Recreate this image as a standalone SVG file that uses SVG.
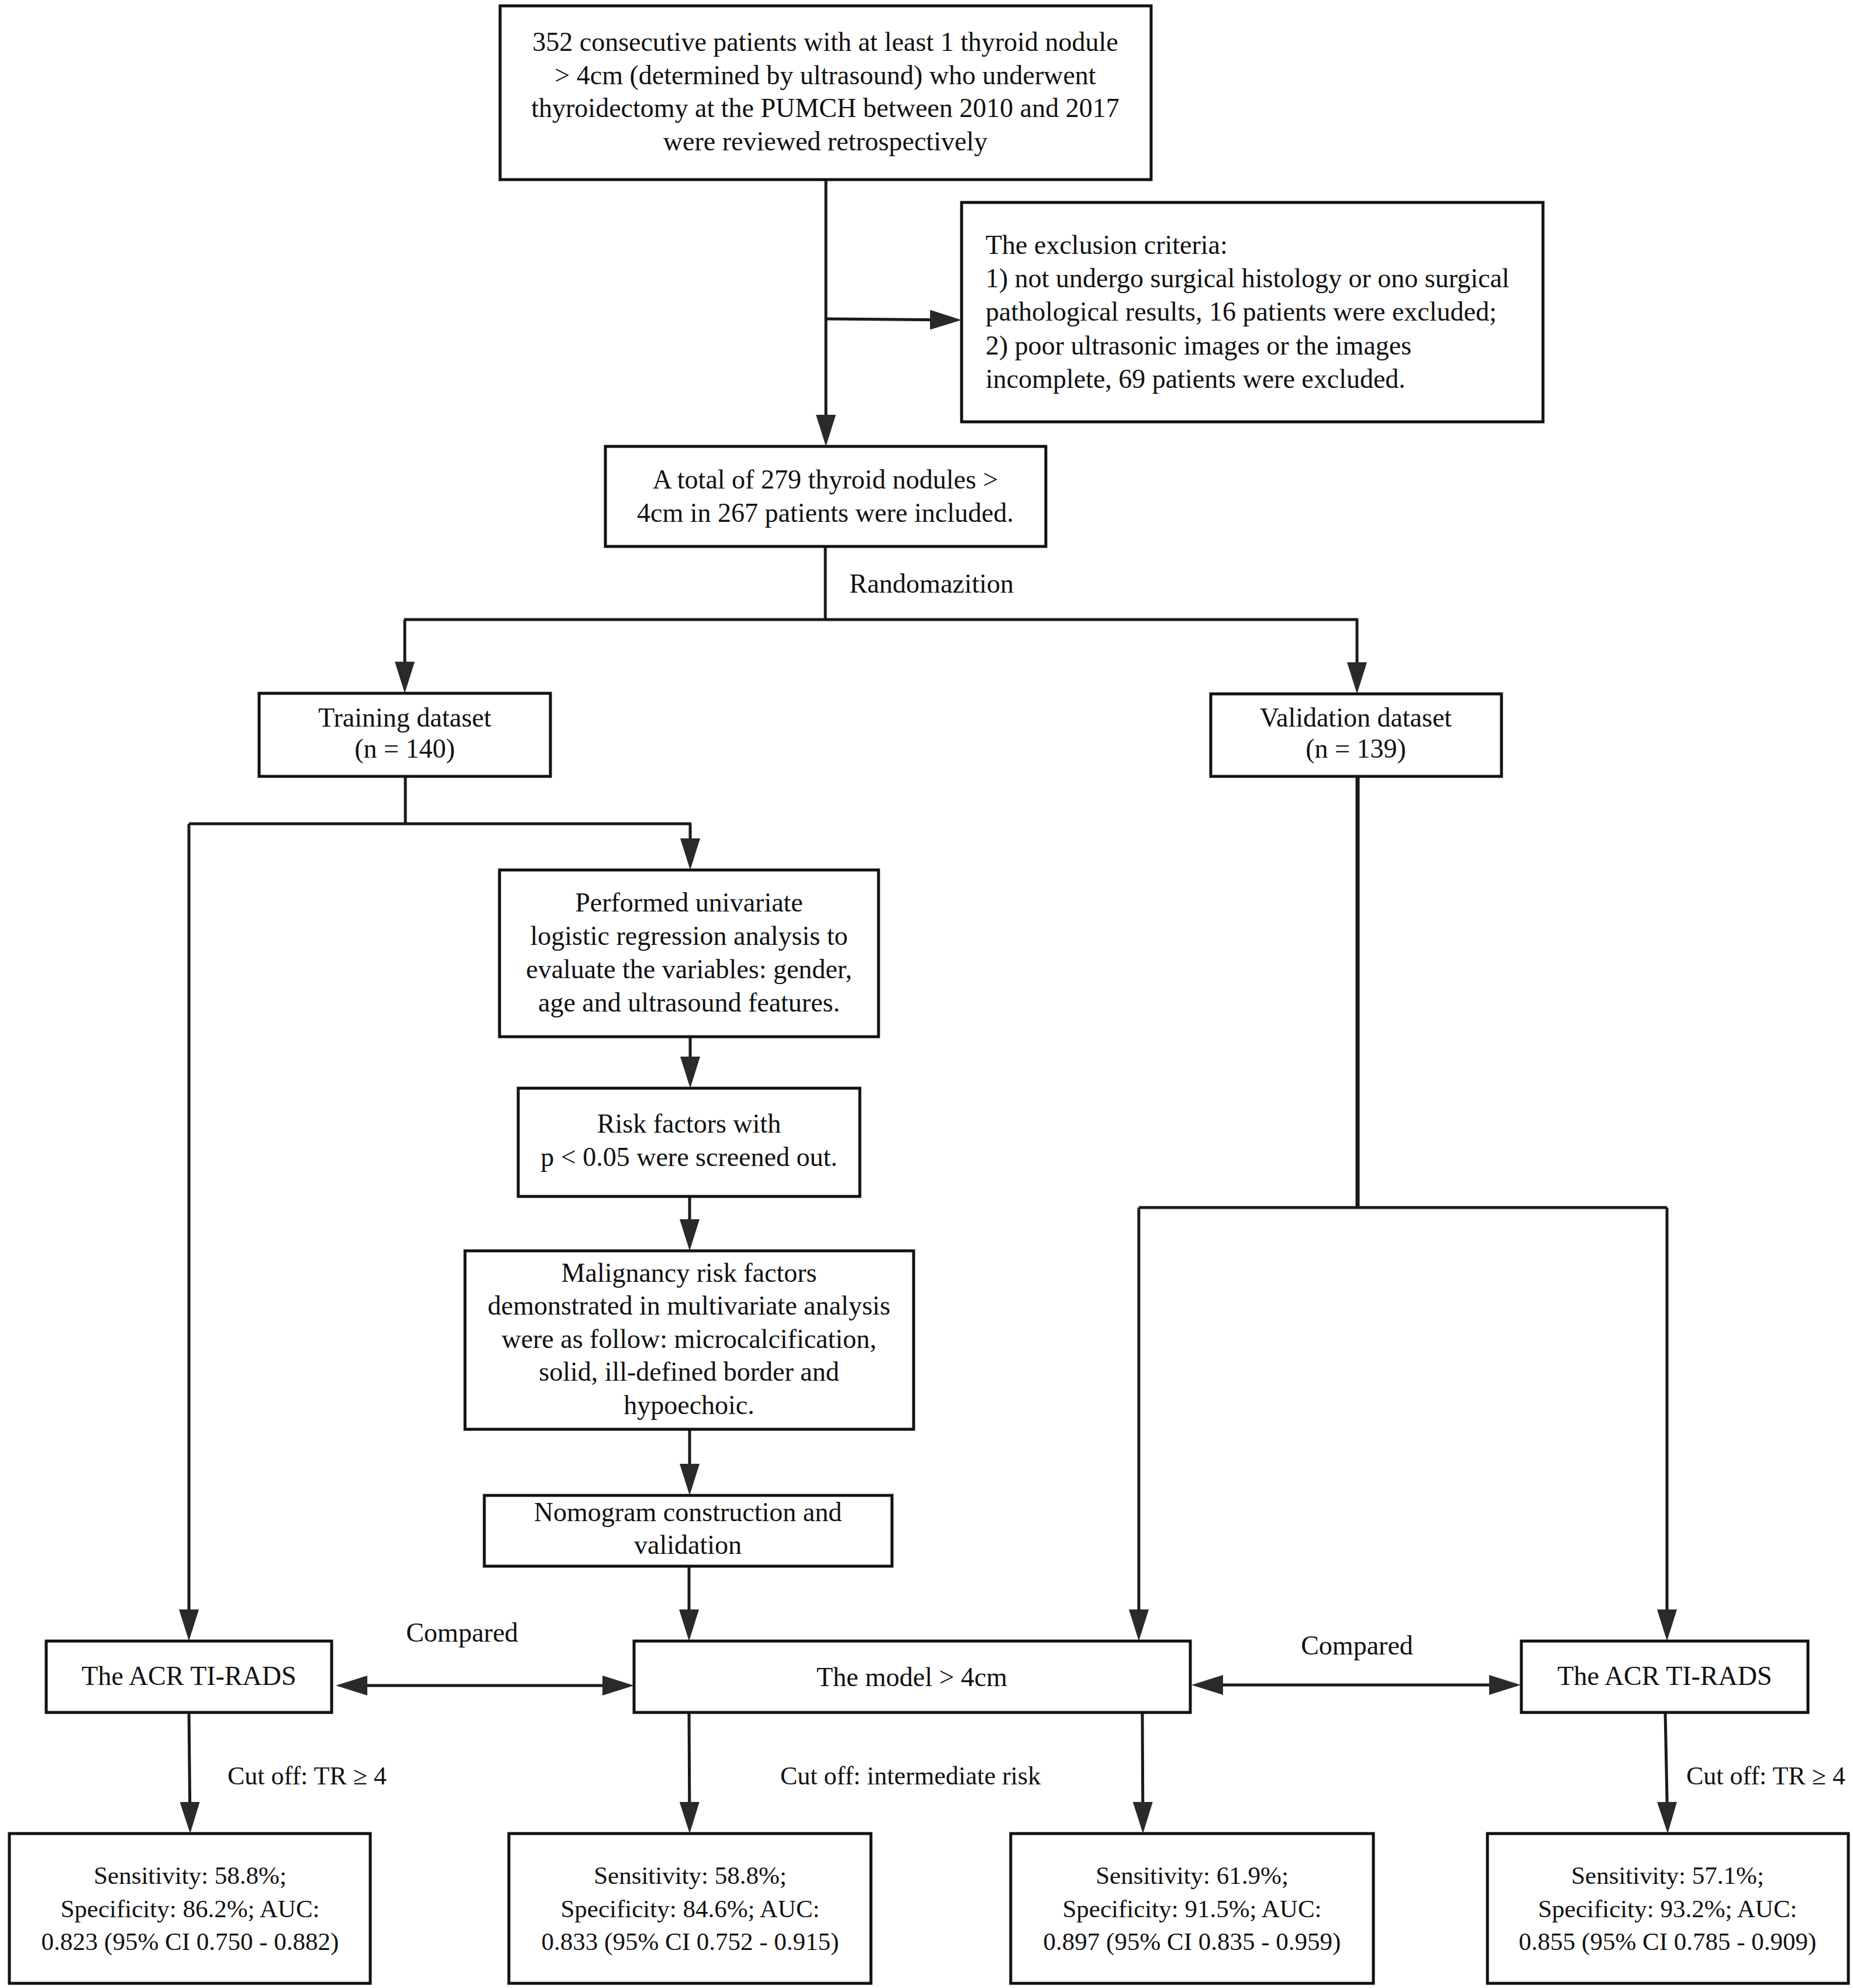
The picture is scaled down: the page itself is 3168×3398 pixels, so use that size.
<svg xmlns="http://www.w3.org/2000/svg" width="3168" height="3398" viewBox="0 0 3168 3398">
<style>
.box{fill:#fff;stroke:#111;stroke-width:5}
.t{font-family:"Liberation Serif","Times New Roman",serif;font-size:46px;fill:#111}
.s{font-size:43px}
.m{font-size:44px}
.c{text-anchor:middle}
.ln{fill:none;stroke:#1a1a1a;stroke-width:5}
</style>
<defs>
<marker id="ah" markerUnits="userSpaceOnUse" markerWidth="56" markerHeight="36" refX="44" refY="17" orient="auto-start-reverse" viewBox="0 0 56 36">
<path d="M0,0 L54,17 L0,34 z" fill="#2a2a2a"/>
</marker>
</defs>
<rect width="3168" height="3398" fill="#fff"/>
<g id="connectors">
<line class="ln" x1="1412" y1="307" x2="1412" y2="753" marker-end="url(#ah)"/>
<line class="ln" x1="1412" y1="545" x2="1634" y2="547" marker-end="url(#ah)"/>
<line class="ln" x1="1411" y1="934" x2="1411" y2="1059"/>
<line class="ln" x1="691" y1="1059" x2="2322" y2="1059"/>
<line class="ln" x1="692" y1="1059" x2="692" y2="1175" marker-end="url(#ah)"/>
<line class="ln" x1="2320" y1="1059" x2="2320" y2="1176" marker-end="url(#ah)"/>
<line class="ln" x1="693" y1="1327" x2="693" y2="1408"/>
<line class="ln" x1="323" y1="1408" x2="1182" y2="1408"/>
<line class="ln" x1="323" y1="1408" x2="323" y2="2795" marker-end="url(#ah)"/>
<line class="ln" x1="1180" y1="1408" x2="1180" y2="1477" marker-end="url(#ah)"/>
<line class="ln" x1="1180" y1="1772" x2="1180" y2="1850" marker-end="url(#ah)"/>
<line class="ln" x1="1179" y1="2045" x2="1179" y2="2128" marker-end="url(#ah)"/>
<line class="ln" x1="1179" y1="2443" x2="1179" y2="2546" marker-end="url(#ah)"/>
<line class="ln" x1="1178" y1="2677" x2="1178" y2="2795" marker-end="url(#ah)"/>
<line class="ln" style="stroke-width:7" x1="2321" y1="1327" x2="2321" y2="2064"/>
<line class="ln" x1="1947" y1="2064" x2="2850" y2="2064"/>
<line class="ln" x1="1947" y1="2064" x2="1947" y2="2795" marker-end="url(#ah)"/>
<line class="ln" x1="2850" y1="2064" x2="2850" y2="2795" marker-end="url(#ah)"/>
<line class="ln" x1="584" y1="2881" x2="1074" y2="2881" marker-start="url(#ah)" marker-end="url(#ah)"/>
<line class="ln" x1="2047" y1="2880" x2="2590" y2="2880" marker-start="url(#ah)" marker-end="url(#ah)"/>
<line class="ln" x1="323" y1="2927" x2="325" y2="3124" marker-end="url(#ah)"/>
<line class="ln" x1="1178" y1="2927" x2="1179" y2="3124" marker-end="url(#ah)"/>
<line class="ln" x1="1953" y1="2927" x2="1954" y2="3124" marker-end="url(#ah)"/>
<line class="ln" x1="2847" y1="2927" x2="2851" y2="3124" marker-end="url(#ah)"/>
<text class="t" x="1452" y="1013">Randomazition</text>
<text class="t c" x="790" y="2806">Compared</text>
<text class="t c" x="2320" y="2828">Compared</text>
<text class="t m" x="389" y="3050">Cut off: TR ≥ 4</text>
<text class="t m" x="1334" y="3050">Cut off: intermediate risk</text>
<text class="t m" x="2883" y="3050">Cut off: TR ≥ 4</text>
</g>
<g id="n1">
<rect class="box" x="855" y="10" width="1113" height="297"/>
<text class="t c" x="1411" y="87">352 consecutive patients with at least 1 thyroid nodule</text>
<text class="t c" x="1411" y="144">&gt; 4cm (determined by ultrasound) who underwent</text>
<text class="t c" x="1411" y="200">thyroidectomy at the PUMCH between 2010 and 2017</text>
<text class="t c" x="1411" y="257">were reviewed retrospectively</text>
</g>
<g id="n2">
<rect class="box" x="1644" y="346" width="994" height="375"/>
<text class="t" x="1685" y="434">The exclusion criteria:</text>
<text class="t" x="1685" y="491">1) not undergo surgical histology or ono surgical</text>
<text class="t" x="1685" y="548">pathological results, 16 patients were excluded;</text>
<text class="t" x="1685" y="606">2) poor ultrasonic images or the images</text>
<text class="t" x="1685" y="663">incomplete, 69 patients were excluded.</text>
</g>
<g id="n3">
<rect class="box" x="1035" y="763" width="753" height="171"/>
<text class="t c" x="1411" y="835">A total of 279 thyroid nodules &gt;</text>
<text class="t c" x="1411" y="892">4cm in 267 patients were included.</text>
</g>
<g id="n4">
<rect class="box" x="443" y="1185" width="498" height="142"/>
<text class="t c" x="692" y="1242">Training dataset</text>
<text class="t c" x="692" y="1295">(n = 140)</text>
</g>
<g id="n5">
<rect class="box" x="2070" y="1186" width="497" height="141"/>
<text class="t c" x="2318" y="1242">Validation dataset</text>
<text class="t c" x="2318" y="1295">(n = 139)</text>
</g>
<g id="n6">
<rect class="box" x="854" y="1487" width="648" height="285"/>
<text class="t c" x="1178" y="1558">Performed univariate</text>
<text class="t c" x="1178" y="1615">logistic regression analysis to</text>
<text class="t c" x="1178" y="1672">evaluate the variables: gender,</text>
<text class="t c" x="1178" y="1729">age and ultrasound features.</text>
</g>
<g id="n7">
<rect class="box" x="886" y="1860" width="584" height="185"/>
<text class="t c" x="1178" y="1936">Risk factors with</text>
<text class="t c" x="1178" y="1993">p &lt; 0.05 were screened out.</text>
</g>
<g id="n8">
<rect class="box" x="795" y="2138" width="767" height="305"/>
<text class="t c" x="1178" y="2191">Malignancy risk factors</text>
<text class="t c" x="1178" y="2247">demonstrated in multivariate analysis</text>
<text class="t c" x="1178" y="2304">were as follow: microcalcification,</text>
<text class="t c" x="1178" y="2360">solid, ill-defined border and</text>
<text class="t c" x="1178" y="2417">hypoechoic.</text>
</g>
<g id="n9">
<rect class="box" x="828" y="2556" width="697" height="121"/>
<text class="t c" x="1176" y="2600">Nomogram construction and</text>
<text class="t c" x="1176" y="2656">validation</text>
</g>
<g id="n10">
<rect class="box" x="79" y="2805" width="488" height="122"/>
<text class="t c" x="323" y="2880">The ACR TI-RADS</text>
</g>
<g id="n11">
<rect class="box" x="1084" y="2805" width="951" height="122"/>
<text class="t c" x="1559" y="2882">The model &gt; 4cm</text>
</g>
<g id="n12">
<rect class="box" x="2601" y="2805" width="490" height="122"/>
<text class="t c" x="2846" y="2880">The ACR TI-RADS</text>
</g>
<g id="n13">
<rect class="box" x="16" y="3134" width="617" height="256"/>
<text class="t s c" x="325" y="3220">Sensitivity: 58.8%;</text>
<text class="t s c" x="325" y="3277">Specificity: 86.2%; AUC:</text>
<text class="t s c" x="325" y="3333">0.823 (95% CI 0.750 - 0.882)</text>
</g>
<g id="n14">
<rect class="box" x="870" y="3134" width="619" height="256"/>
<text class="t s c" x="1180" y="3220">Sensitivity: 58.8%;</text>
<text class="t s c" x="1180" y="3277">Specificity: 84.6%; AUC:</text>
<text class="t s c" x="1180" y="3333">0.833 (95% CI 0.752 - 0.915)</text>
</g>
<g id="n15">
<rect class="box" x="1728" y="3134" width="620" height="256"/>
<text class="t s c" x="2038" y="3220">Sensitivity: 61.9%;</text>
<text class="t s c" x="2038" y="3277">Specificity: 91.5%; AUC:</text>
<text class="t s c" x="2038" y="3333">0.897 (95% CI 0.835 - 0.959)</text>
</g>
<g id="n16">
<rect class="box" x="2543" y="3134" width="617" height="256"/>
<text class="t s c" x="2851" y="3220">Sensitivity: 57.1%;</text>
<text class="t s c" x="2851" y="3277">Specificity: 93.2%; AUC:</text>
<text class="t s c" x="2851" y="3333">0.855 (95% CI 0.785 - 0.909)</text>
</g>
</svg>
